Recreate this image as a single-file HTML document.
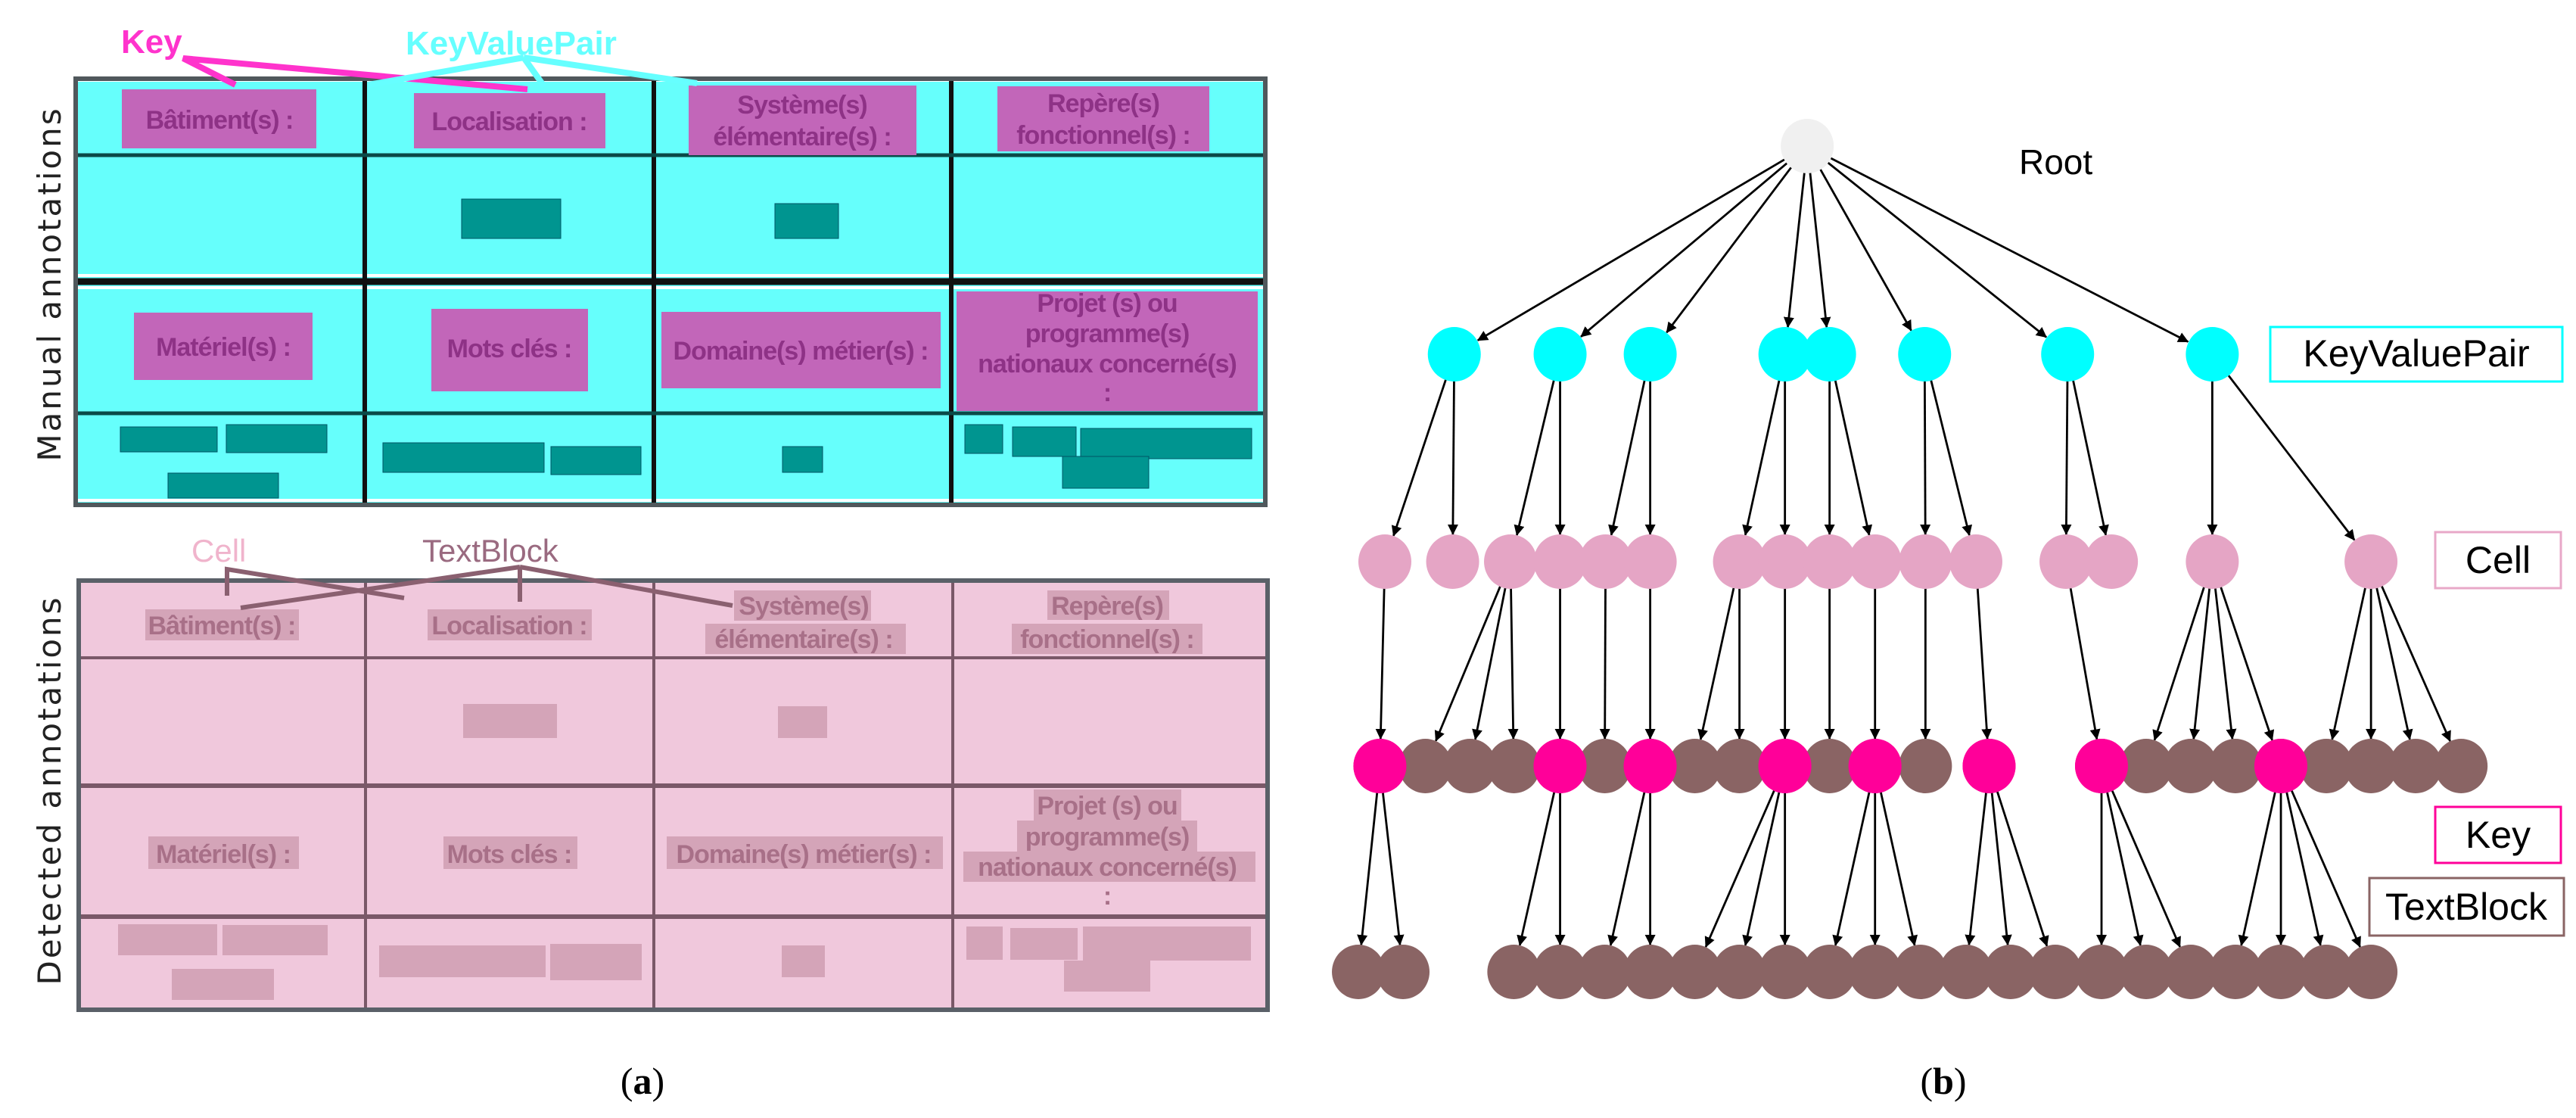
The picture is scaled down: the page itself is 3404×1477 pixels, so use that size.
<!DOCTYPE html>
<html><head><meta charset="utf-8"><style>
html,body{margin:0;padding:0;background:#fff;}
svg{display:block;}
.kt{font-family:"Liberation Sans Narrow","Liberation Sans",sans-serif;font-weight:bold;font-size:34px;fill:#8e3286;text-anchor:middle;letter-spacing:-1px;}
.dt{font-family:"Liberation Sans Narrow","Liberation Sans",sans-serif;font-weight:bold;font-size:34px;fill:#a87088;text-anchor:middle;letter-spacing:-1px;}
</style></head><body>
<svg id="s" width="3404" height="1477" viewBox="0 0 3404 1477" xmlns="http://www.w3.org/2000/svg">
<defs><marker id="ar" markerWidth="14" markerHeight="14" refX="13" refY="7" orient="auto" markerUnits="userSpaceOnUse"><path d="M0,0 L14,7 L0,14 z" fill="#000"/></marker></defs>

<rect x="100" y="104" width="1572" height="563" fill="#66fffc"/>
<g fill="#fff">
<rect x="100" y="104" width="1572" height="4"/>
<rect x="100" y="362" width="1572" height="4"/>
<rect x="100" y="378" width="1572" height="4"/>
<rect x="100" y="659" width="1572" height="4"/>
</g>
<g stroke="#111" stroke-width="6">
<line x1="482" y1="104" x2="482" y2="667"/><line x1="864" y1="104" x2="864" y2="667"/><line x1="1257" y1="104" x2="1257" y2="667"/>
<line x1="100" y1="372" x2="1672" y2="372" stroke-width="9"/>
</g>
<g stroke="#0a4a48" stroke-width="5"><line x1="100" y1="205" x2="1672" y2="205"/><line x1="100" y1="546" x2="1672" y2="546"/></g>
<rect x="100" y="104" width="1572" height="563" fill="none" stroke="#50585c" stroke-width="6"/>
<g fill="#c266b9">
<rect x="161" y="118" width="257" height="78"/><rect x="547" y="123" width="253" height="73"/>
<rect x="910" y="113" width="301" height="92"/><rect x="1318" y="114" width="280" height="86"/>
<rect x="177" y="413" width="236" height="89"/><rect x="570" y="408" width="207" height="109"/>
<rect x="874" y="412" width="369" height="101"/><rect x="1264" y="385" width="398" height="158"/>
</g>
<text class="kt" x="290" y="170">Bâtiment(s) :</text>
<text class="kt" x="673" y="172">Localisation :</text>
<text class="kt" x="1060" y="150">Système(s)</text><text class="kt" x="1060" y="192">élémentaire(s) :</text>
<text class="kt" x="1458" y="148">Repère(s)</text><text class="kt" x="1458" y="190">fonctionnel(s) :</text>
<text class="kt" x="295" y="470">Matériel(s) :</text>
<text class="kt" x="673" y="472">Mots clés :</text>
<text class="kt" x="1058" y="475">Domaine(s) métier(s) :</text>
<text class="kt" x="1463" y="412">Projet (s) ou</text><text class="kt" x="1463" y="452">programme(s)</text><text class="kt" x="1463" y="492">nationaux concerné(s)</text><text class="kt" x="1463" y="530">:</text>
<g fill="#009590" stroke="#056">
<rect x="610" y="263" width="131" height="52"/><rect x="1024" y="269" width="84" height="46"/>
<rect x="159" y="564" width="128" height="33"/><rect x="299" y="561" width="133" height="37"/><rect x="222" y="625" width="146" height="33"/>
<rect x="506" y="585" width="213" height="39"/><rect x="728" y="590" width="119" height="37"/><rect x="1034" y="590" width="53" height="34"/>
<rect x="1275" y="561" width="50" height="38"/><rect x="1338" y="564" width="84" height="39"/><rect x="1428" y="566" width="226" height="40"/><rect x="1404" y="603" width="114" height="42"/>
</g>
<g stroke="#ff33cc" stroke-width="8" fill="none"><polyline points="311,112 242,77 697,118"/></g>
<g stroke="#66ffff" stroke-width="8" fill="none"><line x1="692" y1="76" x2="487" y2="112"/><line x1="692" y1="76" x2="719" y2="114"/><line x1="692" y1="76" x2="921" y2="110"/></g>
<text x="160" y="70" font-family="Liberation Sans Narrow,Liberation Sans,sans-serif" font-weight="bold" font-size="44" fill="#ff33cc">Key</text>
<text x="536" y="72" font-family="Liberation Sans Narrow,Liberation Sans,sans-serif" font-weight="bold" font-size="44" fill="#66ffff">KeyValuePair</text>
<text transform="translate(80,375) rotate(-90)" text-anchor="middle" font-family="DejaVu Sans,sans-serif" font-size="42" letter-spacing="3" fill="#222">Manual annotations</text>

<rect x="104" y="767" width="1571" height="567" fill="#f0c8dc"/>
<g stroke="#7a5868" stroke-width="4">
<line x1="483" y1="767" x2="483" y2="1334"/><line x1="864" y1="767" x2="864" y2="1334"/><line x1="1259" y1="767" x2="1259" y2="1334"/>
<line x1="104" y1="869" x2="1675" y2="869"/><line x1="104" y1="1038" x2="1675" y2="1038" stroke-width="6"/><line x1="104" y1="1211" x2="1675" y2="1211" stroke-width="6"/>
</g>
<rect x="104" y="767" width="1571" height="567" fill="none" stroke="#5a6068" stroke-width="6"/>
<g fill="#d4a4b8">
<rect x="192" y="805" width="203" height="41"/><rect x="565" y="805" width="217" height="41"/>
<rect x="970" y="780" width="181" height="40"/><rect x="932" y="824" width="265" height="40"/>
<rect x="1384" y="780" width="161" height="39"/><rect x="1337" y="824" width="252" height="40"/>
<rect x="612" y="930" width="124" height="45"/><rect x="1028" y="933" width="65" height="42"/>
<rect x="196" y="1105" width="199" height="43"/><rect x="586" y="1105" width="177" height="43"/><rect x="881" y="1105" width="365" height="43"/>
<rect x="1366" y="1043" width="195" height="41"/><rect x="1344" y="1084" width="238" height="41"/><rect x="1273" y="1125" width="386" height="40"/>
<rect x="156" y="1221" width="131" height="41"/><rect x="294" y="1222" width="139" height="40"/><rect x="227" y="1280" width="135" height="41"/>
<rect x="501" y="1249" width="220" height="42"/><rect x="727" y="1247" width="121" height="48"/><rect x="1033" y="1249" width="57" height="42"/>
<rect x="1277" y="1224" width="48" height="44"/><rect x="1335" y="1226" width="89" height="42"/><rect x="1431" y="1224" width="222" height="45"/><rect x="1406" y="1269" width="114" height="41"/>
</g>
<text class="dt" x="293" y="838">Bâtiment(s) :</text>
<text class="dt" x="673" y="838">Localisation :</text>
<text class="dt" x="1062" y="812">Système(s)</text><text class="dt" x="1062" y="856">élémentaire(s) :</text>
<text class="dt" x="1463" y="812">Repère(s)</text><text class="dt" x="1463" y="856">fonctionnel(s) :</text>
<text class="dt" x="295" y="1140">Matériel(s) :</text>
<text class="dt" x="673" y="1140">Mots clés :</text>
<text class="dt" x="1062" y="1140">Domaine(s) métier(s) :</text>
<text class="dt" x="1463" y="1076">Projet (s) ou</text><text class="dt" x="1463" y="1117">programme(s)</text><text class="dt" x="1463" y="1157">nationaux concerné(s)</text><text class="dt" x="1463" y="1195">:</text>
<g stroke="#8a6070" stroke-width="6" fill="none">
<polyline points="300,787 300,752 534,790"/>
<line x1="687" y1="749" x2="318" y2="803"/><line x1="687" y1="749" x2="687" y2="795"/><line x1="687" y1="749" x2="968" y2="800"/>
</g>
<text x="253" y="742" font-family="Liberation Sans Narrow,Liberation Sans,sans-serif" font-size="42" fill="#f0b4cc">Cell</text>
<text x="558" y="742" font-family="Liberation Sans Narrow,Liberation Sans,sans-serif" font-size="42" fill="#9a6a80">TextBlock</text>
<text transform="translate(80,1044) rotate(-90)" text-anchor="middle" font-family="DejaVu Sans,sans-serif" font-size="42" letter-spacing="3" fill="#222">Detected annotations</text>

<text x="849" y="1445" text-anchor="middle" font-family="Liberation Serif,serif" font-size="50" fill="#000">(<tspan font-weight="bold">a</tspan>)</text>
<text x="2568" y="1445" text-anchor="middle" font-family="Liberation Serif,serif" font-size="50" fill="#000">(<tspan font-weight="bold">b</tspan>)</text>

<g id="edges" stroke="#000" stroke-width="2.8"></g>
<g id="nodes"></g>
<text x="2668" y="230" font-family="Liberation Sans,sans-serif" font-size="46" fill="#000">Root</text>
<rect x="3000" y="432" width="386" height="72" fill="#fff" stroke="#00ffff" stroke-width="3"/>
<text x="3193" y="484" text-anchor="middle" font-family="Liberation Sans Narrow,Liberation Sans,sans-serif" font-size="50" fill="#000">KeyValuePair</text>
<rect x="3218" y="703" width="166" height="74" fill="#fff" stroke="#e8a8c8" stroke-width="3"/>
<text x="3301" y="757" text-anchor="middle" font-family="Liberation Sans Narrow,Liberation Sans,sans-serif" font-size="50" fill="#000">Cell</text>
<rect x="3218" y="1066" width="166" height="74" fill="#fff" stroke="#ff0099" stroke-width="3"/>
<text x="3301" y="1120" text-anchor="middle" font-family="Liberation Sans Narrow,Liberation Sans,sans-serif" font-size="50" fill="#000">Key</text>
<rect x="3131" y="1160" width="257" height="76" fill="#fff" stroke="#8a6464" stroke-width="3"/>
<text x="3259" y="1215" text-anchor="middle" font-family="Liberation Sans Narrow,Liberation Sans,sans-serif" font-size="50" fill="#000">TextBlock</text>
</svg>
<script>
(function(){
var NS="http://www.w3.org/2000/svg";
function X(z){return 1700+z*1.0923;}
var Y=[193,468,742,1012,1284];
var R=35;
var C={r:"#f0f0f0",v:"#00ffff",c:"#e5a5c5",k:"#ff0099",t:"#8a6464"};
var kv=[203,331,440,603,657,772,945,1120];
var cells=[119,201,271,331,386,440,548,603,657,712,773,834,943,998,1120,1312];
var row3=[[113,'k'],[168,'t'],[222,'t'],[275,'t'],[331,'k'],[385,'t'],[440,'k'],[494,'t'],[548,'t'],[603,'k'],[657,'t'],[712,'k'],[773,'t'],[850,'k'],[986,'k'],[1040,'t'],[1094,'t'],[1148,'t'],[1203,'k'],[1258,'t'],[1312,'t'],[1366,'t'],[1421,'t']];
var tb=[87,141,275,331,385,440,494,548,603,657,712,767,822,876,930,986,1040,1094,1148,1203,1258,1312];
var E=[];
kv.forEach(function(x){E.push([630,0,x,1]);});
var kc=[[203,[119,201]],[331,[271,331]],[440,[386,440]],[603,[548,603]],[657,[657,712]],[772,[773,834]],[945,[943,998]],[1120,[1120,1312]]];
kc.forEach(function(a){a[1].forEach(function(c){E.push([a[0],1,c,2]);});});
var ck=[[119,[113]],[271,[168,222,275]],[331,[331]],[386,[385]],[440,[440]],[548,[494,548]],[603,[603]],[657,[657]],[712,[712]],[773,[773]],[834,[850]],[943,[986]],[1120,[1040,1094,1148,1203]],[1312,[1258,1312,1366,1421]]];
ck.forEach(function(a){a[1].forEach(function(c){E.push([a[0],2,c,3]);});});
var kt=[[113,[87,141]],[331,[275,331]],[440,[385,440]],[603,[494,548,603]],[712,[657,712,767]],[850,[822,876,930]],[986,[986,1040,1094]],[1203,[1148,1203,1258,1312]]];
kt.forEach(function(a){a[1].forEach(function(c){E.push([a[0],3,c,4]);});});
var eg=document.getElementById("edges"),ng=document.getElementById("nodes");
E.forEach(function(e){
 var x1=X(e[0]),y1=Y[e[1]],x2=X(e[2]),y2=Y[e[3]];
 var dx=x2-x1,dy=y2-y1,L=Math.sqrt(dx*dx+dy*dy),ux=dx/L,uy=dy/L;
 var l=document.createElementNS(NS,"line");
 l.setAttribute("x1",x1+ux*R);l.setAttribute("y1",y1+uy*R);
 l.setAttribute("x2",x2-ux*(R+1));l.setAttribute("y2",y2-uy*(R+1));
 l.setAttribute("marker-end","url(#ar)");eg.appendChild(l);
});
function node(x,y,c){var e=document.createElementNS(NS,"ellipse");e.setAttribute("cx",x);e.setAttribute("cy",y);e.setAttribute("rx",R);e.setAttribute("ry",R+1);e.setAttribute("fill",c);ng.appendChild(e);}
node(X(630),Y[0],C.r);
kv.forEach(function(x){node(X(x),Y[1],C.v);});
cells.forEach(function(x){node(X(x),Y[2],C.c);});
row3.forEach(function(a){node(X(a[0]),Y[3],C[a[1]]);});
row3.forEach(function(a){if(a[1]=='k')node(X(a[0]),Y[3],C.k);});
tb.forEach(function(x){node(X(x),Y[4],C.t);});
})();
</script>
</body></html>
